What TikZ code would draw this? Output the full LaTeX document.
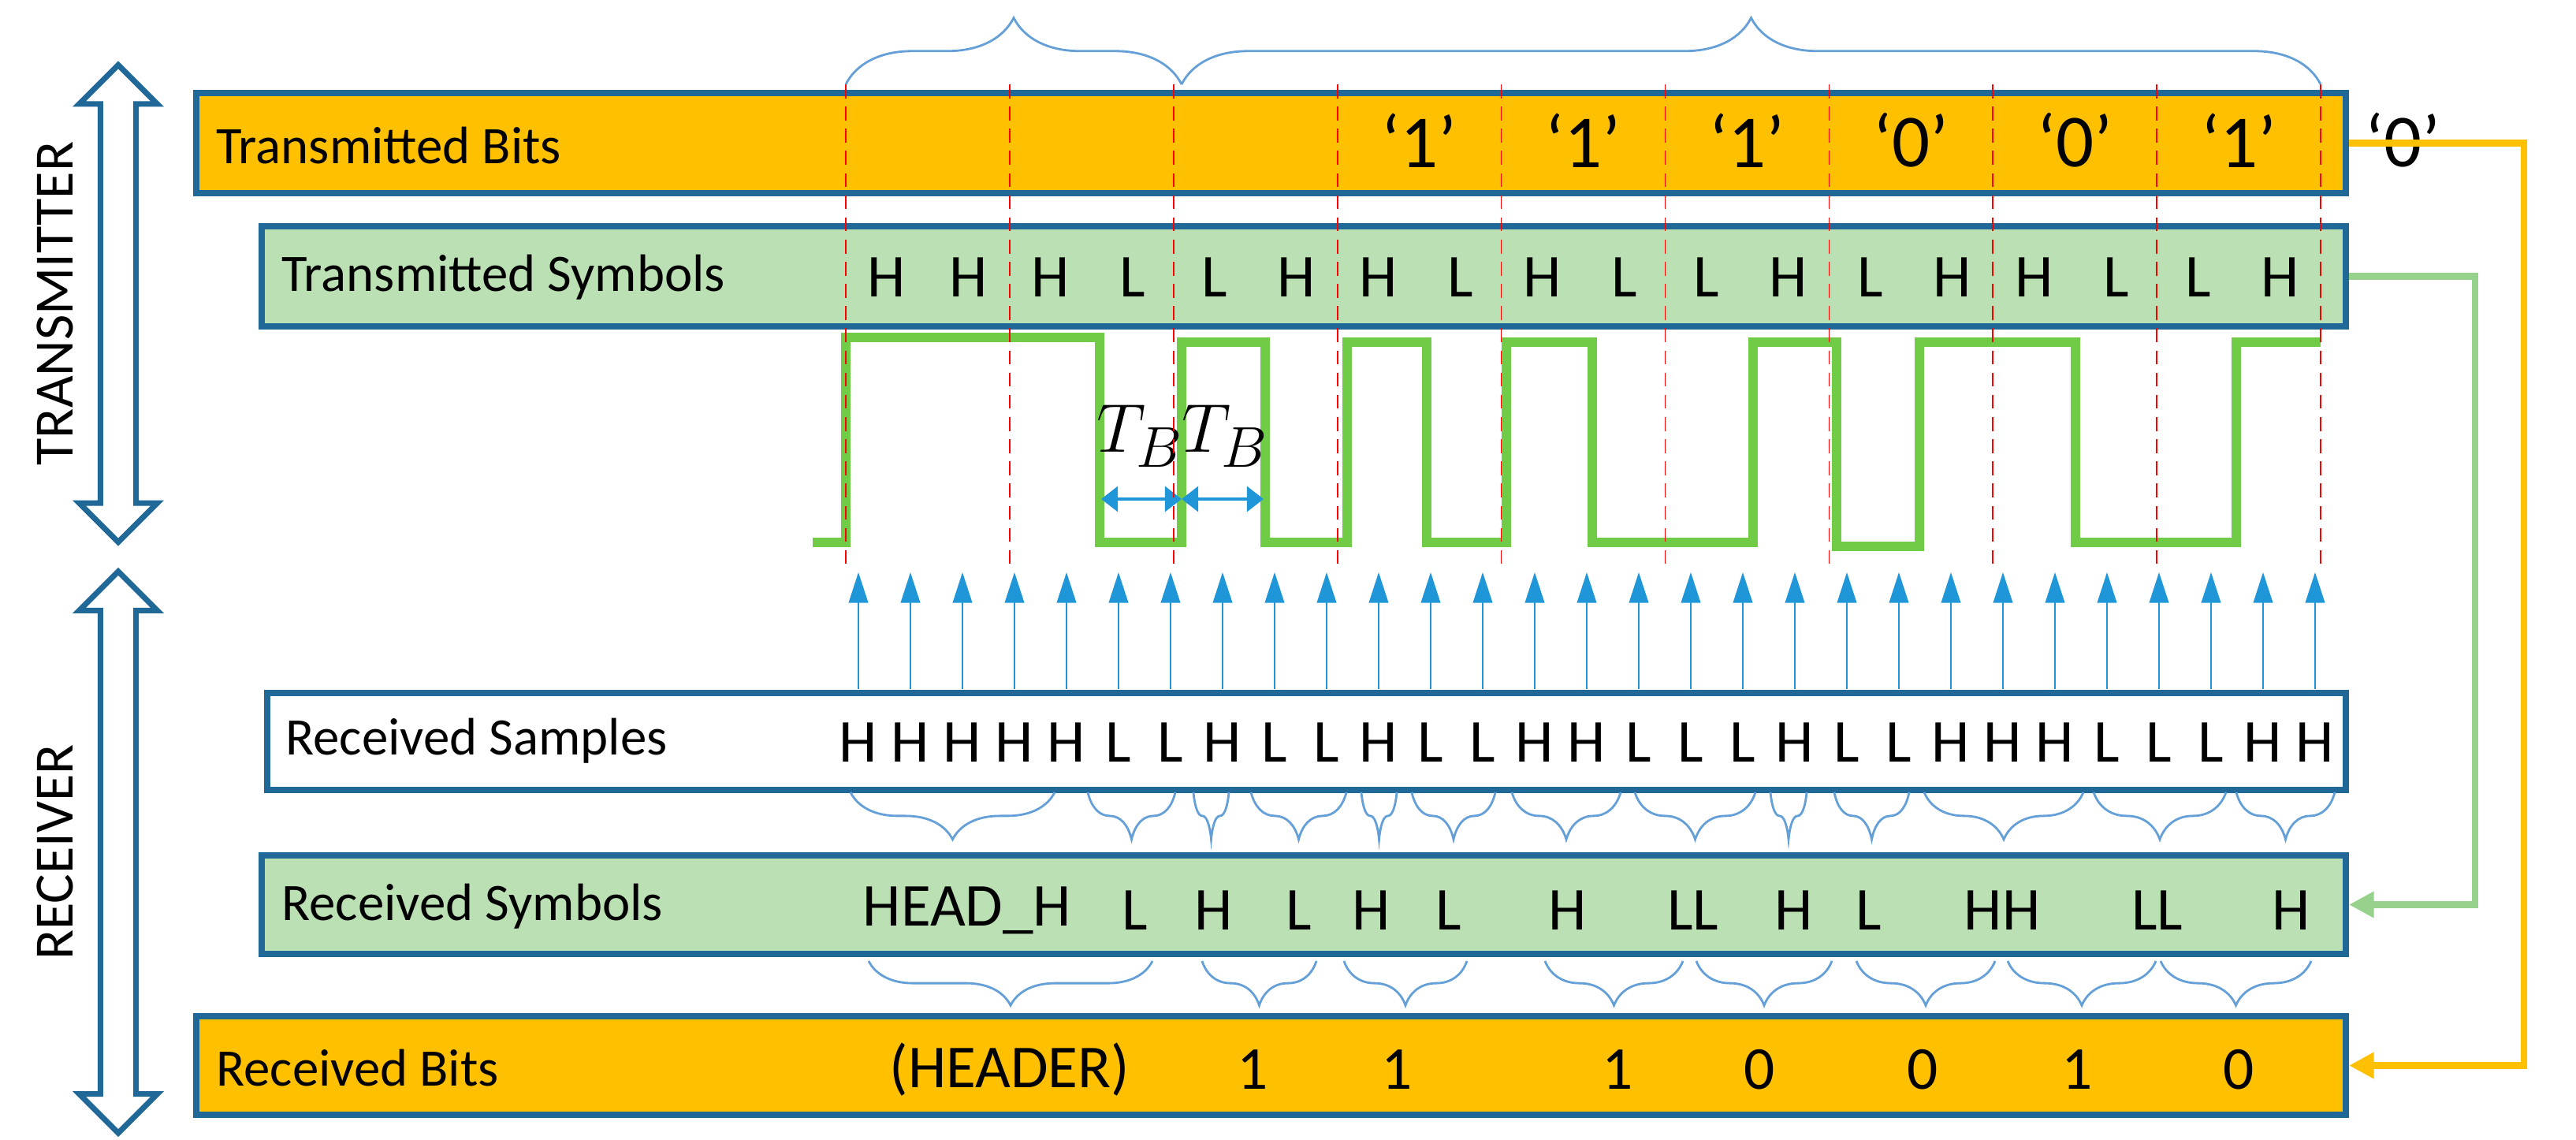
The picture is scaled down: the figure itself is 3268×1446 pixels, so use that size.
\documentclass[tikz,border=0pt]{standalone}
\usepackage{fontspec}
\setmainfont{Carlito}
\usetikzlibrary{arrows.meta,shapes.arrows,decorations.pathreplacing}
\definecolor{brd}{RGB}{31,104,152}
\definecolor{org}{RGB}{255,192,0}
\definecolor{sym}{RGB}{187,224,180}
\definecolor{wave}{RGB}{112,204,70}
\definecolor{ablue}{RGB}{30,150,215}
\definecolor{brace}{RGB}{100,160,215}
\definecolor{gconn}{RGB}{150,210,140}
\begin{document}
\begin{tikzpicture}[x=0.01cm,y=-0.01cm,
  box/.style={draw=brd,line width=2.4pt,rectangle,inner sep=0pt},
  lab/.style={anchor=west,font=\fontsize{19}{20}\selectfont},
  big/.style={font=\fontsize{22}{24}\selectfont},
  qbit/.style={font=\fontsize{27}{28}\selectfont},
  redl/.style={red,dashed,line width=0.5pt,dash pattern=on 5pt off 3pt},
  br/.style={brace,line width=0.8pt,decorate,decoration={brace,amplitude=#1}},
  samp/.style={ablue,line width=0.6pt,-{Triangle[length=11pt,width=7pt]}},
  dar/.style={double arrow,draw=brd,line width=2pt,fill=white,rotate=90,inner sep=0.19cm,double arrow head extend=0.27cm}]
\useasboundingbox (0,0) rectangle (3268,1446);
% boxes
\node[box,fill=org,minimum width=27.25cm,minimum height=1.27cm] (tb) at (1612.5,181.5) {};
\node[box,fill=sym,minimum width=26.42cm,minimum height=1.27cm] (ts) at (1654,350.5) {};
\node[box,fill=white,minimum width=26.35cm,minimum height=1.23cm] (rs) at (1657.5,940.5) {};
\node[box,fill=sym,minimum width=26.42cm,minimum height=1.25cm] (rsym) at (1654,1147.5) {};
\node[box,fill=org,minimum width=27.25cm,minimum height=1.25cm] (rb) at (1612.5,1351.5) {};
\node[lab] (tbl) at (262,185) {Transmitted Bits};
\node[lab] (tsl) at (345,352) {Transmitted Symbols};
\node[lab] (rsl) at (350,940) {Received Samples};
\node[lab] (rsyl) at (345,1150) {Received Symbols};
\node[lab] (rbl) at (262,1355) {Received Bits};
% left arrows
\node[dar,minimum height=6.05cm,minimum width=0.92cm] (tx) at (150,385) {};
\node[dar,minimum height=7.12cm,minimum width=0.92cm] (rx) at (150,1081) {};
\node[rotate=90,font=\fontsize{20}{22}\selectfont] (txl) at (70,385) {TRANSMITTER};
\node[rotate=90,font=\fontsize{20}{22}\selectfont] (rxl) at (70,1081) {RECEIVER};
% transmitted bits
\foreach \b [count=\k from 3] in {1,1,1,0,0,1,0}
  \node[qbit] (bit\k) at ({1073+207.9*\k+104},178) {‘\b’};
% transmitted symbols
\foreach \s [count=\i from 0] in {H,H,H,L,L,H,H,L,H,L,L,H,L,H,H,L,L,H}
  \node[big] (sy\i) at ({1125+104*\i},352) {\s};
% wave
\draw[wave,line width=3.4pt,line join=miter] (1031,688)--(1073,688)--(1073,428)--(1395,428)--(1395,688)--(1499,688)--(1499,434)--(1605,434)--(1605,688)--(1709,688)--(1709,434)--(1810,434)--(1810,688)--(1911,688)--(1911,434)--(2020,434)--(2020,688)--(2224,688)--(2224,434)--(2330,434)--(2330,693)--(2435,693)--(2435,434)--(2633,434)--(2633,688)--(2837,688)--(2837,434)--(2944,434);
% T_B
\node[font=\fontsize{28}{30}\selectfont] (tb1) at (1446,553) {$T_B$};
\node[font=\fontsize{28}{30}\selectfont] (tb2) at (1554,553) {$T_B$};
\coordinate (d0) at (1397,633); \coordinate (d1) at (1499,633); \coordinate (d2) at (1603,633);
\draw[ablue,line width=1.2pt,{Triangle[length=6pt,width=9pt]}-{Triangle[length=6pt,width=9pt]}] (d0)--(d1);
\draw[ablue,line width=1.2pt,{Triangle[length=6pt,width=9pt]}-{Triangle[length=6pt,width=9pt]}] (d1)--(d2);
% red dashed
\foreach \k in {0,...,9}
  \draw[redl] ({1073+207.9*\k},107)--({1073+207.9*\k},721);
% top braces
\draw[br=24pt] (1073,107)--(1499,107);
\draw[br=24pt] (1499,107)--(2944,107);
% samples
\foreach \s [count=\i from 0] in {H,H,H,H,H,L,L,H,L,L,H,L,L,H,H,L,L,L,H,L,L,H,H,H,L,L,L,H,H}{
  \node[big] (sa\i) at ({1089+66*\i},942) {\s};
  \coordinate (a\i) at ({1089+66*\i},874);
  \coordinate (t\i) at ({1089+66*\i},726);
  \draw[samp] (a\i)--(t\i);
}
% sample braces
\foreach \a/\b in {1079/1338,1380/1491,1514/1559,1587/1708,1727/1772,1791/1897,1918/2056,2074/2227,2246/2292,2327/2422,2441/2643,2656/2824,2837/2962}
  \draw[br=17pt] (\b,1005)--(\a,1005);
% received symbols
\foreach \s/\x in {HEAD\_H/1227,L/1440,H/1540,L/1648,H/1740,L/1838,H/1989,LL/2148,H/2276,L/2371,HH/2540,LL/2737,H/2907}
  \node[big] at (\x,1155) {\s};
\foreach \a/\b in {1102/1462,1525/1670,1705/1861,1960/2135,2152/2324,2355/2531,2547/2735,2741/2932}
  \draw[br=16pt] (\b,1219)--(\a,1219);
% received bits
\foreach \s/\x in {(HEADER)/1281,1/1589,1/1772,1/2052,0/2232,0/2439,1/2635,0/2840}
  \node[big] at (\x,1357) {\s};
% right connectors
\draw[org,line width=2.4pt,-{Triangle[length=9pt,width=9pt]}] (tb.east)--++(222,0)|-(rb.east);
\draw[gconn,line width=2.4pt,-{Triangle[length=9pt,width=9pt]}] (ts.east)--++(160,0)|-(rsym.east);
\end{tikzpicture}
\end{document}
